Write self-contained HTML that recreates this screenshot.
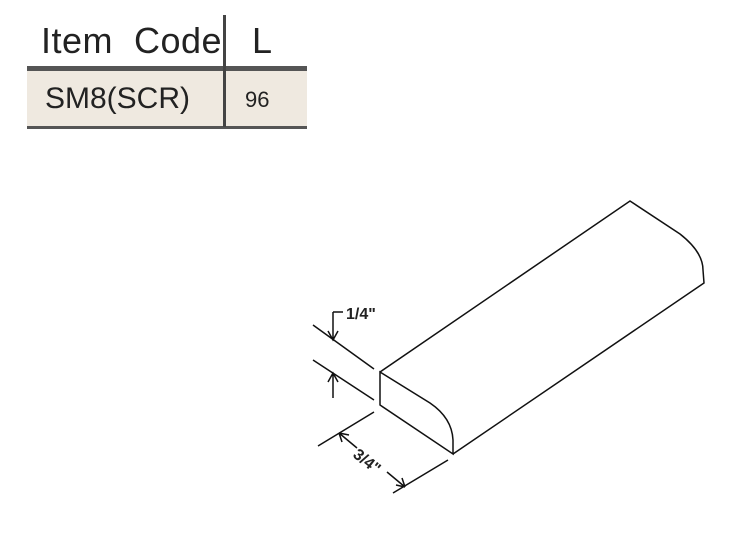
<!DOCTYPE html>
<html><head><style>
body{margin:0;width:732px;height:544px;background:#fff;position:relative;overflow:hidden;font-family:"Liberation Sans",sans-serif}
.t{position:absolute;color:#222;white-space:nowrap}
</style></head><body>
<div style="position:absolute;left:27px;top:70px;width:280px;height:56px;background:#efe9e0"></div>
<div style="position:absolute;left:27px;top:66px;width:280px;height:5px;background:#555"></div>
<div style="position:absolute;left:27px;top:126px;width:280px;height:3px;background:#555"></div>
<div style="position:absolute;left:223px;top:15px;width:3px;height:112px;background:#444"></div>
<div class="t" style="left:41px;top:20px;font-size:36px;letter-spacing:0.5px">Item&nbsp; Code</div>
<div class="t" style="left:252px;top:20px;font-size:36px">L</div>
<div class="t" style="left:45px;top:82px;font-size:30px">SM8(SCR)</div>
<div class="t" style="left:245px;top:87px;font-size:22px">96</div>
<svg width="732" height="544" style="position:absolute;left:0;top:0" fill="none" stroke="#111" stroke-width="1.5">
<path d="M380 372 L630 201 L680 234 Q703 252 703 270 L704 283 L453 454"/>
<path d="M380 372 L380 405 L453 454 L453 440 Q452 418 430 403 Z"/>
<path d="M313 325 L374 369 M313 360 L374 400 M374 412 L318 446 M448 460 L393 493"/>
<path d="M333 312 L333 340 M333 312 L343 312 M328 331 L333 340 L338 331"/>
<path d="M333 373 L333 398 M328 382 L333 373 L338 382"/>
<path d="M339 433 L357 448 M339 433 L349 435 M339 433 L342 442"/>
<path d="M387 472 L405 487 M405 487 L396 485 M405 487 L402 478"/>
</svg>
<div class="t" style="left:346px;top:306px;font-size:16px;font-weight:bold">1/4"</div>
<div class="t" style="left:360px;top:446px;font-size:16px;font-weight:bold;transform:rotate(38deg);transform-origin:left top">3/4"</div>
</body></html>
